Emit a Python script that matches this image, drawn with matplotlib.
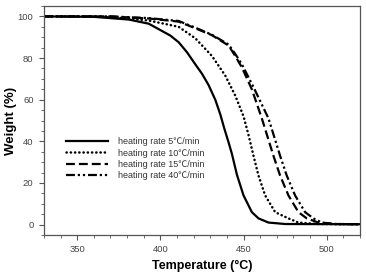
import matplotlib
matplotlib.use("Agg")
import matplotlib.pyplot as plt
from matplotlib.ticker import MultipleLocator

# Data
t_5 = [330, 360, 381, 393, 401, 406, 411, 416, 421, 425, 429, 433, 436, 438.5, 441, 443, 446, 450, 455, 459, 465, 475, 520]
w_5 = [100, 99.8, 98.5, 96.5, 93, 90.8, 87.6, 82.8, 77, 72.5, 67, 60, 53, 46, 39.5, 34, 24, 14, 6, 3, 1, 0.3, 0.2]

t_10 = [330, 360, 381, 393, 401, 411, 421, 431, 439, 445, 450, 453, 456, 459, 463, 469, 477, 483, 495, 520]
w_10 = [100, 100, 99, 98, 96.7, 95, 89.5, 81, 71.6, 62, 52, 43, 33, 23.5, 14, 6, 3, 1, 0.3, 0.2]

t_15 = [330, 370, 393, 411, 421, 431, 441, 445, 449, 455, 461, 468, 472, 477, 483, 488, 495, 505, 520]
w_15 = [100, 100, 99, 97.5, 94.3, 91, 86, 81, 75.5, 65, 51, 33, 23.5, 14, 6, 3, 1, 0.3, 0.2]

t_40 = [330, 370, 393, 411, 421, 431, 441, 445, 449, 456, 465, 472, 476, 481, 487, 492, 497, 505, 520]
w_40 = [100, 100, 99.2, 97.8, 94.6, 91.2, 86.5, 82, 77, 66, 51, 33, 23.5, 14, 6, 3, 1, 0.3, 0.2]

labels = ["heating rate 5\u2103/min", "heating rate 10\u2103/min",
          "heating rate 15\u2103/min", "heating rate 40\u2103/min"]

plt.rcParams['font.family'] = ['Liberation Sans', 'Noto Sans CJK SC', 'DejaVu Sans']

fig = plt.figure(figsize=(3.66, 2.73), dpi=100)
ax = fig.add_axes([0.120, 0.139, 0.8636, 0.839])

lw = 1.6
ax.plot(t_5, w_5, color='black', lw=lw, linestyle='-', label=labels[0])
ax.plot(t_10, w_10, color='black', lw=1.8, linestyle=(0, (0.1, 1.6)),
        dash_capstyle='round', label=labels[1])
ax.plot(t_15, w_15, color='black', lw=lw, linestyle=(0, (4, 1.8)), label=labels[2])
ax.plot(t_40, w_40, color='black', lw=lw, linestyle=(0, (4, 1.3, 1, 1.3, 1, 1.3)), label=labels[3])

ax.set_xlim(330, 520)
ax.set_ylim(-5, 105)
ax.xaxis.set_major_locator(MultipleLocator(50))
ax.xaxis.set_minor_locator(MultipleLocator(10))
ax.yaxis.set_major_locator(MultipleLocator(20))
ax.yaxis.set_minor_locator(MultipleLocator(5))

ax.tick_params(which='both', direction='out', top=False, right=False,
               colors='#555555', labelsize=6.8, labelcolor='#444444')
ax.tick_params(which='major', length=3.5, width=0.8, pad=4)
ax.tick_params(which='minor', length=2, width=0.6)
for s in ax.spines.values():
    s.set_color('#555555')
    s.set_linewidth(0.9)

ax.set_xlabel("Temperature (\u00b0C)", fontsize=9, fontweight='bold', va='center')
ax.xaxis.set_label_coords(0.5, -0.135)
ax.set_ylabel("Weight (%)", fontsize=9.5, fontweight='bold', va='center')
ax.yaxis.set_label_coords(-0.105, 0.5)

leg = ax.legend(loc='upper left', bbox_to_anchor=(0.06, 0.443), frameon=False,
                fontsize=6.5, handlelength=4.6, handletextpad=1.1,
                labelspacing=0.26, borderaxespad=0)
for txt in leg.get_texts():
    txt.set_color('#333333')

fig.savefig("out.png", dpi=100)
